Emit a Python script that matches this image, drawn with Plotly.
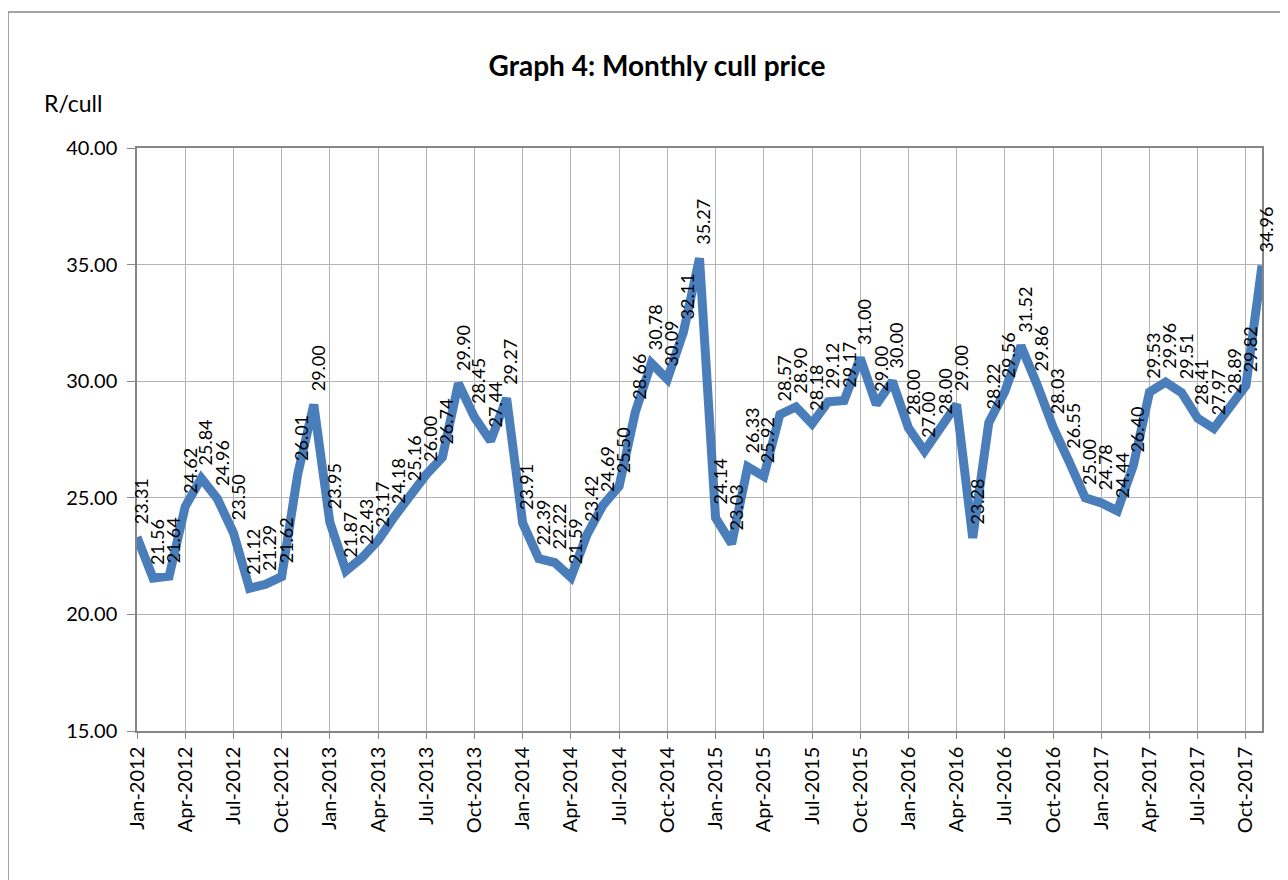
import plotly.graph_objects as go

months_abbr = ["Jan", "Feb", "Mar", "Apr", "May", "Jun", "Jul", "Aug", "Sep", "Oct", "Nov", "Dec"]
years = [2012, 2013, 2014, 2015, 2016, 2017]
months = [f"{m}-{y}" for y in years for m in months_abbr][:71]

prices = [
    23.31, 21.56, 21.64, 24.62, 25.84, 24.96, 23.50, 21.12, 21.29, 21.62, 26.01, 29.00,
    23.95, 21.87, 22.43, 23.17, 24.18, 25.16, 26.00, 26.74, 29.90, 28.45, 27.44, 29.27,
    23.91, 22.39, 22.22, 21.59, 23.42, 24.69, 25.50, 28.66, 30.78, 30.09, 32.11, 35.27,
    24.14, 23.03, 26.33, 25.92, 28.57, 28.90, 28.18, 29.12, 29.17, 31.00, 29.00, 30.00,
    28.00, 27.00, 28.00, 29.00, 23.28, 28.22, 29.56, 31.52, 29.86, 28.03, 26.55, 25.00,
    24.78, 24.44, 26.40, 29.53, 29.96, 29.51, 28.41, 27.97, 28.89, 29.82, 34.96,
]

tick_labels = months[::3]
y_ticks = [15, 20, 25, 30, 35, 40]

FONT = "Lato"

# page body has an 8px margin, so the figure starts at (8, 8)
OFF = 8
PL, PR, PT, PB = 137, 1262, 148, 731  # target plot-area edges in page pixels
W, H = 1288 - OFF, 880 - OFF
PW, PH = PR - PL, PB - PT


def px_x(x):
    return (x - PL) / PW


def px_y(y):
    return (PB - y) / PH


fig = go.Figure()
fig.add_trace(go.Scatter(
    x=months, y=prices, mode="lines",
    line=dict(color="#4a7ebb", width=9),
    hoverinfo="x+y",
))

for m, v in zip(months, prices):
    fig.add_annotation(
        x=m, y=v, text=f"{v:.2f}", showarrow=False, textangle=-90,
        xanchor="center", yanchor="bottom", xshift=4, yshift=11,
        font=dict(family=FONT, size=18, color="#000000"),
    )

fig.add_annotation(
    xref="paper", yref="paper", text="R/cull", showarrow=False,
    x=px_x(42), y=px_y(103), xanchor="left", yanchor="middle",
    font=dict(family=FONT, size=23, color="#000000"),
)

fig.add_shape(
    type="rect", xref="paper", yref="paper",
    x0=px_x(8), x1=px_x(1300),
    y0=px_y(890), y1=px_y(12),
    line=dict(color="#868686", width=1.5), fillcolor="rgba(0,0,0,0)", layer="below",
)

fig.update_layout(
    width=W, height=H,
    margin=dict(l=PL - OFF, r=W - (PR - OFF), t=PT - OFF, b=H - (PB - OFF)),
    paper_bgcolor="white", plot_bgcolor="white",
    showlegend=False,
    title=dict(
        text="<b>Graph 4: Monthly cull price</b>",
        x=(657 - OFF) / W, xanchor="center", xref="container",
        y=1 - (66 - OFF) / H, yanchor="middle", yref="container",
        font=dict(family=FONT, size=28, color="#000000"),
    ),
    font=dict(family=FONT, color="#000000"),
)

fig.update_xaxes(
    type="category", range=[0, 70],
    tickmode="array", tickvals=tick_labels, ticktext=tick_labels,
    tickangle=-90, tickfont=dict(family=FONT, size=20, color="#000000"),
    showgrid=True, gridcolor="#b3b3b3", gridwidth=1,
    showline=True, linecolor="#868686", linewidth=1.5, mirror=True,
    ticks="outside", ticklen=6, tickcolor="#868686",
)
fig.update_yaxes(
    range=[15, 40], tickmode="array", tickvals=y_ticks,
    ticktext=[f"{t:.2f}" for t in y_ticks],
    tickfont=dict(family=FONT, size=20, color="#000000"),
    showgrid=True, gridcolor="#b3b3b3", gridwidth=1,
    showline=True, linecolor="#868686", linewidth=1.5, mirror=True,
    ticks="outside", ticklen=8, tickcolor="#868686", zeroline=False,
    ticklabelstandoff=6,
)

fig.write_html("out.html")
